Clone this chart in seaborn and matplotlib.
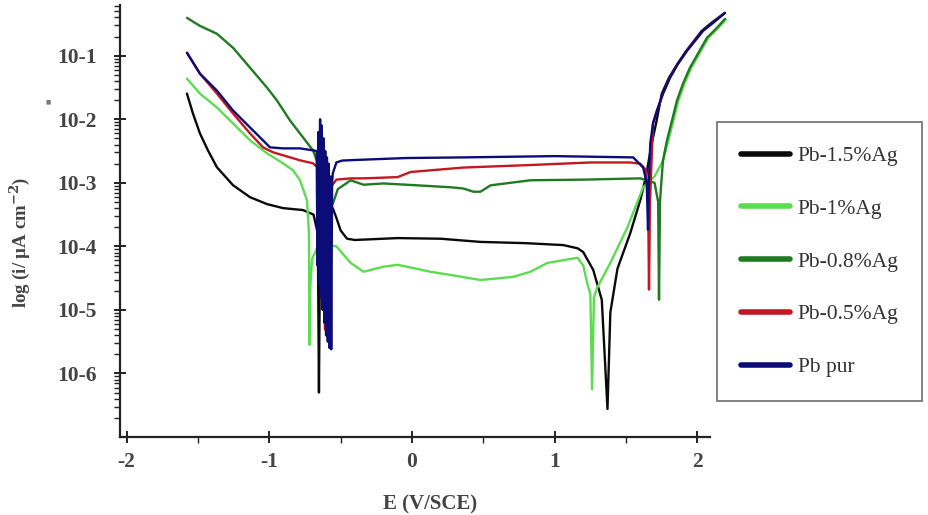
import numpy as np
import pandas as pd
import matplotlib
matplotlib.use("Agg")
import matplotlib.pyplot as plt
from matplotlib.ticker import FixedLocator, LogLocator, FuncFormatter, NullFormatter
import seaborn as sns

# potential E (V/SCE) and log10 of current density
E_15 = [-1.577, -1.535, -1.486, -1.43, -1.367, -1.254, -1.135, -1.016, -0.904, -0.764, -0.69, -0.66,
        -0.652, -0.645, -0.60, -0.555, -0.53, -0.50, -0.455, -0.40, -0.10, 0.20, 0.48, 0.80, 1.06, 1.16,
        1.20, 1.27, 1.33, 1.37, 1.39, 1.44, 1.53, 1.60, 1.64, 1.68, 1.71, 1.75, 1.80, 1.86, 1.92, 2.03,
        2.10, 2.19]
log_15 = [-1.596, -1.909, -2.223, -2.489, -2.755, -3.038, -3.226, -3.335, -3.398, -3.429, -3.50, -3.80,
          -6.30, -4.20, -3.60, -3.40, -3.55, -3.75, -3.88, -3.90, -3.87, -3.88, -3.93, -3.95, -3.98, -4.03,
          -4.09, -4.37, -4.84, -6.56, -5.04, -4.35, -3.79, -3.27, -2.90, -2.38, -2.07, -1.60, -1.35, -1.13,
          -0.93, -0.61, -0.48, -0.33]

E_10 = [-1.577, -1.486, -1.367, -1.254, -1.135, -1.016, -0.904, -0.834, -0.785, -0.736, -0.722, -0.718,
        -0.712, -0.70, -0.65, -0.60, -0.53, -0.43, -0.34, -0.20, -0.10, 0.13, 0.27, 0.48, 0.71, 0.83, 0.95,
        1.16, 1.20, 1.23, 1.25, 1.262, 1.275, 1.30, 1.39, 1.51, 1.62, 1.70, 1.76, 1.797, 1.832, 1.867,
        1.909, 1.958, 2.077, 2.147, 2.20]
log_10 = [-1.361, -1.596, -1.815, -2.066, -2.332, -2.536, -2.693, -2.803, -2.959, -3.273, -3.79, -5.55,
          -4.60, -4.20, -3.95, -3.97, -4.00, -4.26, -4.40, -4.32, -4.29, -4.40, -4.45, -4.53, -4.48, -4.40,
          -4.26, -4.18, -4.30, -4.60, -4.75, -6.25, -4.80, -4.64, -4.26, -3.70, -3.07, -2.90, -2.646, -2.332,
          -2.019, -1.705, -1.439, -1.188, -0.718, -0.561, -0.43]

E_08 = [-1.577, -1.486, -1.367, -1.254, -1.135, -1.016, -0.946, -0.855, -0.785, -0.694, -0.65, -0.635,
        -0.625, -0.60, -0.55, -0.52, -0.43, -0.34, -0.20, 0.04, 0.27, 0.36, 0.43, 0.48, 0.55, 0.83, 1.20,
        1.60, 1.70, 1.725, 1.731, 1.738, 1.745, 1.759, 1.787, 1.822, 1.857, 1.899, 1.948, 2.067, 2.137,
        2.193]
log_08 = [-0.404, -0.530, -0.655, -0.875, -1.188, -1.502, -1.705, -2.019, -2.223, -2.489, -2.75, -3.20,
          -5.00, -3.60, -3.30, -3.10, -2.96, -3.03, -3.01, -3.04, -3.07, -3.09, -3.14, -3.14, -3.04, -2.96,
          -2.95, -2.93, -3.00, -3.30, -4.84, -3.30, -3.069, -2.646, -2.332, -2.019, -1.705, -1.439, -1.188,
          -0.718, -0.561, -0.420]

E_05 = [-1.577, -1.486, -1.367, -1.254, -1.135, -1.044, -0.974, -0.855, -0.785, -0.694, -0.64, -0.62,
        -0.61, -0.60, -0.58, -0.53, -0.43, -0.34, -0.10, -0.01, 0.36, 0.83, 1.25, 1.53, 1.60, 1.64,
        1.655, 1.661, 1.668, 1.689, 1.717, 1.759, 1.808, 1.864, 1.927, 2.039, 2.109, 2.193]
log_05 = [-0.953, -1.282, -1.596, -1.909, -2.223, -2.442, -2.520, -2.599, -2.646, -2.693, -2.80, -3.50,
          -5.31, -3.60, -3.10, -2.95, -2.93, -2.93, -2.91, -2.83, -2.76, -2.72, -2.68, -2.68, -2.70, -2.80,
          -3.30, -4.68, -3.30, -2.066, -1.862, -1.596, -1.345, -1.125, -0.922, -0.608, -0.483, -0.326]

E_pur = [-1.577, -1.486, -1.367, -1.254, -1.135, -1.044, -0.995, -0.904, -0.785, -0.694,
         -0.668, -0.662, -0.656, -0.650, -0.644, -0.638, -0.632, -0.626, -0.620, -0.614, -0.608, -0.602,
         -0.596, -0.590, -0.584, -0.578, -0.572, -0.566, -0.560, -0.555, -0.54, -0.53, -0.49, -0.39,
         -0.04, 0.36, 1.00, 1.55, 1.62, 1.645, 1.654, 1.66, 1.67, 1.689, 1.717, 1.759, 1.808, 1.864,
         1.927, 2.039, 2.109, 2.193]
log_pur = [-0.953, -1.282, -1.549, -1.862, -2.129, -2.332, -2.442, -2.458, -2.458, -2.489,
           -2.50, -4.30, -2.20, -4.60, -2.00, -4.80, -2.10, -5.00, -2.30, -5.20, -2.50, -5.40,
           -2.60, -5.50, -2.70, -5.60, -2.90, -5.62, -3.00, -2.85, -2.75, -2.68, -2.65, -2.64,
           -2.61, -2.60, -2.58, -2.60, -2.76, -3.00, -3.74, -3.00, -2.38, -2.066, -1.862, -1.596, -1.345,
           -1.125, -0.922, -0.608, -0.483, -0.326]

labels = ["Pb-1.5%Ag", "Pb-1%Ag", "Pb-0.8%Ag", "Pb-0.5%Ag", "Pb pur"]
colors = ["#0a0a0a", "#5cdc50", "#1f7a22", "#c21822", "#0c0c78"]
series = [(E_15, log_15), (E_10, log_10), (E_08, log_08), (E_05, log_05), (E_pur, log_pur)]

sns.set_style("ticks")
plt.rcParams["font.family"] = ["Liberation Serif", "DejaVu Serif"]
plt.rcParams["mathtext.fontset"] = "dejavuserif"
plt.rcParams["axes.unicode_minus"] = False

fig = plt.figure(figsize=(9.29, 5.15), dpi=100)
ax = fig.add_axes([0.1292, 0.1515, 0.635, 0.839])

for (E, lg), lab, col in zip(series, labels, colors):
    df = pd.DataFrame({"E": E, "i": np.power(10.0, lg)})
    sns.lineplot(data=df, x="E", y="i", ax=ax, sort=False, estimator=None,
                 color=col, lw=1.7, label=lab, clip_on=False)

ax.set_yscale("log")
ax.set_xlim(-2.046, 2.088)
ax.set_ylim(1e-7, 10 ** -0.2)

ax.xaxis.set_major_locator(FixedLocator([-2, -1, 0, 1, 2]))
ax.xaxis.set_minor_locator(FixedLocator([-1.5, -0.5, 0.5, 1.5]))
ax.yaxis.set_major_locator(FixedLocator([1e-1, 1e-2, 1e-3, 1e-4, 1e-5, 1e-6]))
ax.yaxis.set_minor_locator(LogLocator(base=10, subs=np.arange(2, 10), numticks=20))
ax.yaxis.set_minor_formatter(NullFormatter())
ax.yaxis.set_major_formatter(FuncFormatter(lambda v, p: "10%d" % round(np.log10(v))))

ax.tick_params(axis="both", which="major", direction="inout", length=8, width=1.4,
               colors="#222222", labelsize=15.5)
ax.tick_params(axis="both", which="minor", direction="out", length=4, width=1.0, colors="#222222")
ax.tick_params(axis="x", pad=7)
ax.tick_params(axis="y", pad=13)
for t in ax.get_xticklabels() + ax.get_yticklabels():
    t.set_fontweight("bold")
    t.set_color("#444444")

for s in ["top", "right"]:
    ax.spines[s].set_visible(False)
for s in ["left", "bottom"]:
    ax.spines[s].set_linewidth(1.6)
    ax.spines[s].set_color("#222222")

ax.set_xlabel("E (V/SCE)", fontsize=15, fontweight="bold", color="#444444")
ax.xaxis.set_label_coords(0.525, -0.132)
ax.set_ylabel(r"log (i/ µA cm$^{\mathbf{-2}}$)", fontsize=13.5, fontweight="bold", color="#444444")
ax.yaxis.set_label_coords(-0.15, 0.451)

# small stray square mark left of the 10-2 label
fig.text(48 / 929, 1 - 102 / 515, "■", fontsize=4, color="#777777", ha="center", va="center",
         family="DejaVu Sans")

leg = ax.legend(loc="center left", bbox_to_anchor=(0.772, 0.492), bbox_transform=fig.transFigure,
                frameon=True, fancybox=False, fontsize=15.5, labelspacing=1.52, borderpad=1.1,
                handlelength=2.3, handletextpad=0.35, borderaxespad=0)
leg.get_frame().set_edgecolor("#555555")
leg.get_frame().set_linewidth(1.3)
for line in leg.get_lines():
    line.set_linewidth(4.0)
for t in leg.get_texts():
    t.set_color("#333333")

fig.savefig("out.png", dpi=100)
